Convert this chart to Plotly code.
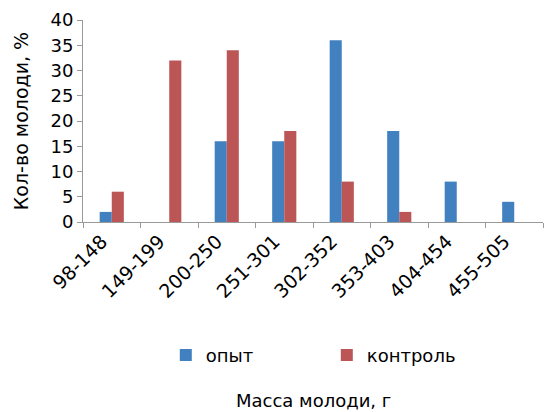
import plotly.graph_objects as go

categories = ["98-148", "149-199", "200-250", "251-301", "302-352", "353-403", "404-454", "455-505"]
opyt = [2, 0, 16, 16, 36, 18, 8, 4]
kontrol = [6, 32, 34, 18, 8, 2, 0, 0]

FONT = "DejaVu Sans, sans-serif"
fig = go.Figure()
fig.add_trace(go.Bar(x=categories, y=opyt, name="опыт", marker_color="#4181C0",
                     marker_line_width=0, legend="legend"))
fig.add_trace(go.Bar(x=categories, y=kontrol, name="контроль", marker_color="#BC5556",
                     marker_line_width=0, legend="legend2"))

legend_style = dict(orientation="h", yanchor="middle", xanchor="left",
                    font=dict(size=18), itemwidth=30, bgcolor="rgba(0,0,0,0)")

fig.update_layout(
    width=545, height=412,
    margin=dict(l=83, r=2, t=20, b=190),
    paper_bgcolor="white", plot_bgcolor="white",
    barmode="group", bargap=0.58, bargroupgap=0,
    font=dict(family=FONT, size=17, color="black"),
    showlegend=True,
    legend=dict(x=0.18, y=-0.66, **legend_style),
    legend2=dict(x=0.53, y=-0.66, **legend_style),
    annotations=[dict(text="Масса молоди, г", x=0.5, y=-0.885, xref="paper", yref="paper",
                      showarrow=False, font=dict(size=18), xanchor="center", yanchor="middle")],
)
fig.update_xaxes(
    type="category", tickangle=-45, showline=True, linecolor="#9a9a9a", linewidth=1,
    ticks="outside", tickson="boundaries", ticklen=5, tickcolor="#9a9a9a",
    tickfont=dict(size=19), ticklabelshift=-10, showgrid=False,
)
fig.update_yaxes(
    range=[0, 40], dtick=5, showline=True, linecolor="#9a9a9a", linewidth=1,
    ticks="outside", ticklen=5, tickcolor="#9a9a9a", showgrid=False, zeroline=False,
    tickfont=dict(size=18),
    title=dict(text="Кол-во молоди, %", font=dict(size=19), standoff=16),
)

fig.write_html("out.html")
